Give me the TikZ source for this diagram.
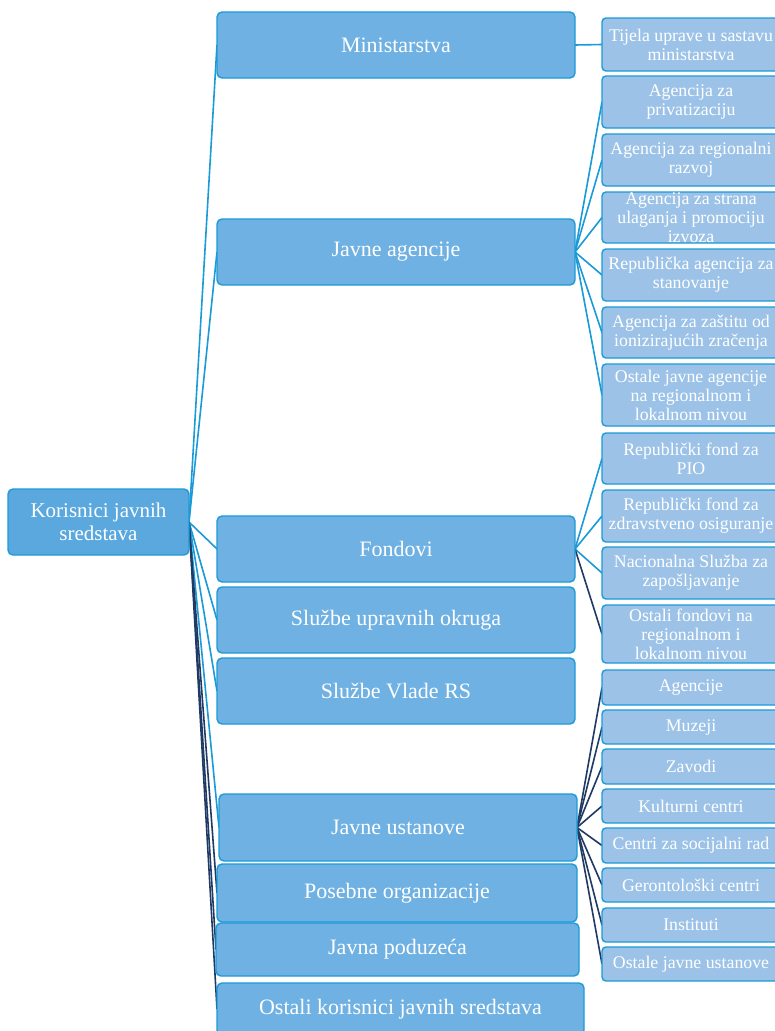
\documentclass[tikz,border=0pt]{standalone}
\usepackage{fontspec}
\setmainfont{Liberation Serif}
\usetikzlibrary{backgrounds}
\definecolor{bordc}{HTML}{1B9BD8}
\definecolor{rootc}{HTML}{5AA8DE}
\definecolor{midc}{HTML}{6FB1E2}
\definecolor{leafc}{HTML}{9CC3E7}
\definecolor{lightc}{HTML}{1A9AD6}
\definecolor{darkc}{HTML}{1F3A64}
\begin{document}
\begin{tikzpicture}[x=1pt,y=-1pt,
  box/.style={draw=bordc, line width=1.4pt, rounded corners=5pt, text=white, align=center, inner sep=0pt, outer sep=0pt},
  rootbox/.style={box, fill=rootc, minimum width=181pt, minimum height=66pt, font=\fontsize{21}{23}\selectfont},
  midbox/.style={box, fill=midc, font=\fontsize{22}{24}\selectfont},
  leaf/.style={box, fill=leafc, rounded corners=4pt, minimum width=178pt, font=\fontsize{17.8}{19}\selectfont},
  lc/.style={draw=lightc, line width=1.6pt},
  dc/.style={draw=darkc, line width=1.6pt}]
\useasboundingbox (0,0) rectangle (774,1031);

% root
\node[rootbox] (root) at (98.5,522) {Korisnici javnih\\sredstava};

% middle column
\node[midbox, minimum width=358pt, minimum height=66pt] (m1) at (396,45) {Ministarstva};
\node[midbox, minimum width=358pt, minimum height=66pt] (m2) at (396,252) {Javne agencije};
\node[midbox, minimum width=358pt, minimum height=66pt] (m3) at (396,549) {Fondovi};
\node[midbox, minimum width=358pt, minimum height=66pt] (m4) at (396,620) {Službe upravnih okruga};
\node[midbox, minimum width=358pt, minimum height=66pt] (m5) at (396,691) {Službe Vlade RS};
\node[midbox, minimum width=358pt, minimum height=67pt] (m6) at (398,827.5) {Javne ustanove};
\node[midbox, minimum width=360pt, minimum height=58pt] (m7) at (397,893) {Posebne organizacije};
\node[midbox, minimum width=363pt, minimum height=53pt] (m8) at (397.5,949.5) {Javna poduzeća};
\node[midbox, minimum width=367pt, minimum height=52pt] (m9) at (400.5,1009) {Ostali korisnici javnih sredstava};

% right column
\node[leaf, minimum height=53pt] (r1) at (691,44.5) {Tijela uprave u sastavu\\ministarstva};
\node[leaf, minimum height=52pt] (r2) at (691,102) {Agencija za\\privatizaciju};
\node[leaf, minimum height=52pt] (r3) at (691,160) {Agencija za regionalni\\razvoj};
\node[leaf, minimum height=51pt] (r4) at (691,217.5) {Agencija za strana\\ulaganja i promociju\\izvoza};
\node[leaf, minimum height=52pt] (r5) at (691,275) {Republička agencija za\\stanovanje};
\node[leaf, minimum height=51pt] (r6) at (691,332.5) {Agencija za zaštitu od\\ionizirajućih zračenja};
\node[leaf, minimum height=62pt] (r7) at (691,395) {Ostale javne agencije\\na regionalnom i\\lokalnom nivou};
\node[leaf, minimum height=51pt] (r8) at (691,458.5) {Republički fond za\\PIO};
\node[leaf, minimum height=52pt] (r9) at (691,516) {Republički fond za\\zdravstveno osiguranje};
\node[leaf, minimum height=52pt] (r10) at (691,573) {Nacionalna Služba za\\zapošljavanje};
\node[leaf, minimum height=58pt] (r11) at (691,634) {Ostali fondovi na\\regionalnom i\\lokalnom nivou};
\node[leaf, minimum height=35pt] (r12) at (691,687.5) {Agencije};
\node[leaf, minimum height=34pt] (r13) at (691,727) {Muzeji};
\node[leaf, minimum height=35pt] (r14) at (691,766.5) {Zavodi};
\node[leaf, minimum height=34pt] (r15) at (691,806) {Kulturni centri};
\node[leaf, minimum height=35pt] (r16) at (691,845.5) {Centri za socijalni rad};
\node[leaf, minimum height=34pt] (r17) at (691,885) {Gerontološki centri};
\node[leaf, minimum height=34pt] (r18) at (691,925) {Instituti};
\node[leaf, minimum height=34pt] (r19) at (691,964) {Ostale javne ustanove};

\begin{scope}[on background layer]
  \fill[white] (0,0) rectangle (774,1031);
  % root connectors
  \foreach \m in {m1,m2,m3,m4,m5,m6} \draw[lc] (root.east) -- (\m.west);
  \foreach \m in {m7,m8,m9} \draw[dc] (root.east) -- (\m.west);
  % children
  \draw[lc] (m1.east) -- (r1.west);
  \foreach \r in {r2,r3,r4,r5,r6,r7} \draw[lc] (m2.east) -- (\r.west);
  \foreach \r in {r8,r9,r10} \draw[lc] (m3.east) -- (\r.west);
  \draw[dc] (m3.east) -- (r11.west);
  \foreach \r in {r12,r13,r14,r15,r16,r17,r18,r19} \draw[dc] (m6.east) -- (\r.west);
\end{scope}
\end{tikzpicture}
\end{document}
